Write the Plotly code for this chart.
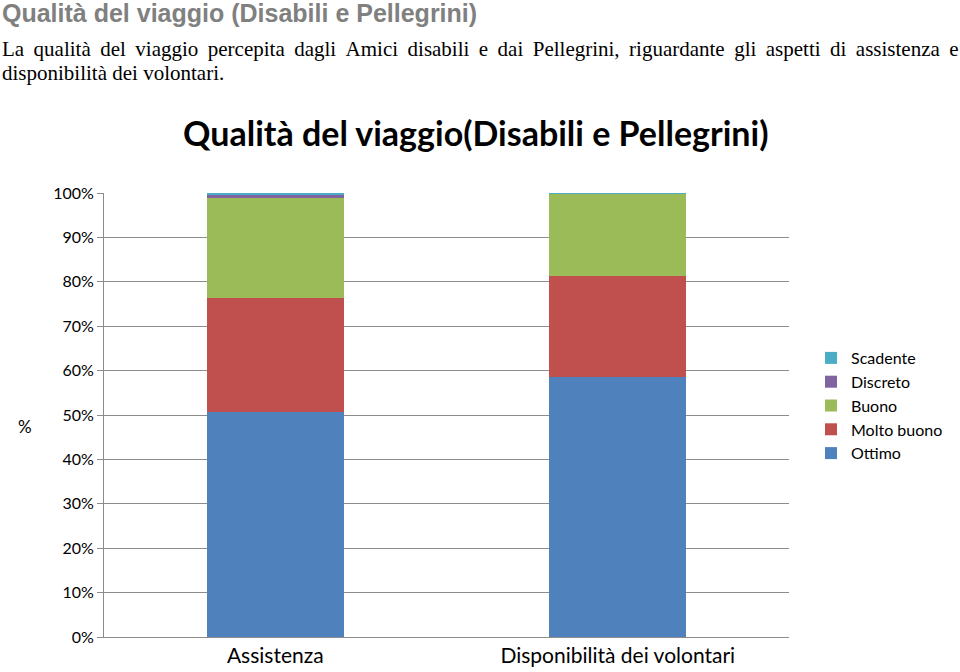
import plotly.graph_objects as go

categories = ["Assistenza", "Disponibilità dei volontari"]
series_names = ["Ottimo", "Molto buono", "Buono", "Discreto", "Scadente"]
ottimo = [50.7, 58.6]
molto_buono = [25.7, 22.7]
buono = [22.4, 18.5]
discreto = [0.7, 0.0]
scadente = [0.5, 0.3]
tick_vals = [0, 10, 20, 30, 40, 50, 60, 70, 80, 90, 100]
tick_text = [f"{v}%" for v in tick_vals]

header_title = "Qualità del viaggio (Disabili e Pellegrini)"
para_line1 = "La qualità del viaggio percepita dagli Amici disabili e dai Pellegrini, riguardante gli aspetti di assistenza e"
para_line2 = "disponibilità dei volontari."
chart_title = "Qualità del viaggio(Disabili e Pellegrini)"

colors = ["#4F81BD", "#C0504D", "#9BBB59", "#8064A2", "#4BACC6"]
values = [ottimo, molto_buono, buono, discreto, scadente]

fig = go.Figure()
for name, vals, col in zip(series_names, values, colors):
    fig.add_trace(go.Bar(x=categories, y=vals, name=name,
                         marker=dict(color=col, line=dict(width=0)), width=0.4))

T, B = 193, 637
H = B - T
def py(pix):
    return (B - pix) / H

W_L, W_R = 104, 789
W = W_R - W_L
def px(pix):
    return (pix - W_L) / W

GRID = "#8c8c8c"
fig.update_layout(
    barmode="stack",
    width=960, height=672,
    margin=dict(l=W_L, r=960 - W_R, t=T, b=672 - B, autoexpand=False),
    paper_bgcolor="white", plot_bgcolor="white",
    font=dict(family="Lato", color="#000"),
    showlegend=True,
    legend=dict(traceorder="reversed", x=px(811), y=py(341), xanchor="left", yanchor="top",
                font=dict(family="Lato", size=16, color="#000"), itemwidth=30,
                bgcolor="rgba(0,0,0,0)"),
    xaxis=dict(showline=True, linecolor=GRID, linewidth=1, ticks="", automargin=False,
               tickfont=dict(size=21, color="#000"), showgrid=False),
    yaxis=dict(range=[0, 100], tickvals=tick_vals, ticktext=tick_text, automargin=False,
               showgrid=True, gridcolor=GRID, gridwidth=1, showline=True, linecolor=GRID,
               ticks="outside", ticklen=6, tickcolor=GRID,
               tickfont=dict(size=16, color="#000"), zeroline=False),
)

# justified first line: widen each word gap with a thin space
justified_line1 = (" \u2009").join(para_line1.split(" "))

annos = [
    dict(text="<b>" + chart_title + "</b>", x=px(475), y=py(132), xanchor="center",
         font=dict(family="Lato", size=34, color="#000")),
    dict(text="%", x=px(25), y=py(426), xanchor="center", font=dict(family="Lato", size=17, color="#000")),
    dict(text="<b>" + header_title + "</b>", x=px(0), y=py(13), xanchor="left",
         font=dict(family="Liberation Sans", size=25, color="#808080")),
    dict(text=justified_line1, x=px(0), y=py(49), xanchor="left",
         font=dict(family="Liberation Serif", size=21, color="#000")),
    dict(text=para_line2, x=px(0), y=py(73), xanchor="left",
         font=dict(family="Liberation Serif", size=21, color="#000")),
]
for a in annos:
    fig.add_annotation(xref="paper", yref="paper", showarrow=False, yanchor="middle", **a)

fig.write_html("out.html")
